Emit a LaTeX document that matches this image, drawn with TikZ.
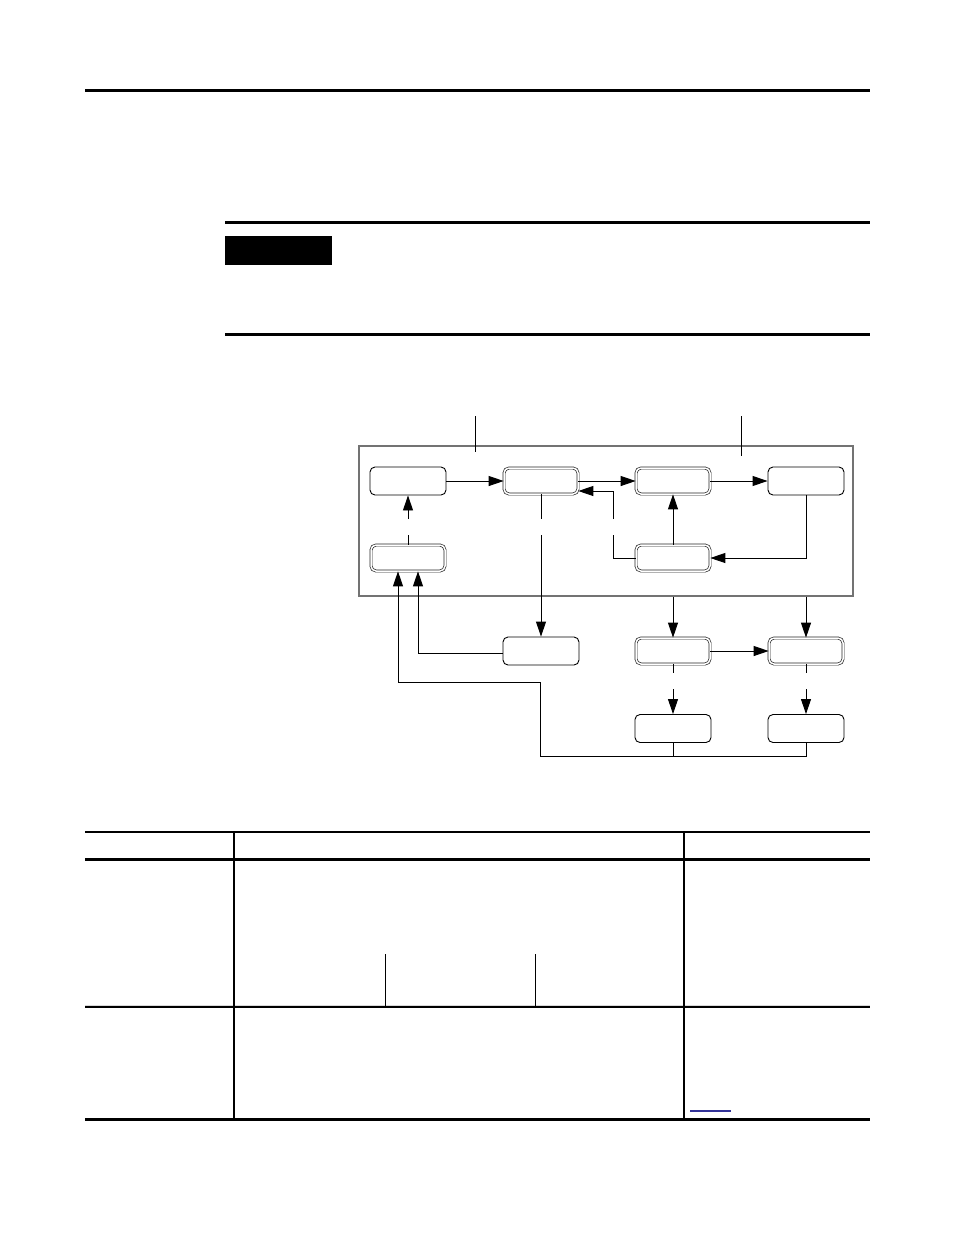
\documentclass[tikz,border=0pt]{standalone}
\usetikzlibrary{arrows.meta}
\begin{document}
\begin{tikzpicture}[x=1pt,y=-1pt,
  sbox/.style={draw=black,line width=0.9pt,rounded corners=5pt,minimum width=76pt,minimum height=28pt,inner sep=0pt,fill=white},
  dbox/.style={draw=black!85,line width=0.7pt,double=white,double distance=1.5pt,rounded corners=5pt,minimum width=74pt,minimum height=26pt,inner sep=0pt},
  conn/.style={line width=0.9pt,black},
  arr/.style={conn,-{Triangle[length=15pt,width=10pt]}},
  rule/.style={line width=3pt,black},
  tline/.style={line width=1.5pt,black}]
\useasboundingbox (0,0) rectangle (954,1235);
% page rules
\draw[rule] (85,90) -- (870,90);
\draw[rule] (225,222) -- (870,222);
\fill[black] (225,236) rectangle (332,265);
\draw[rule] (225,334) -- (870,334);
% diagram frame
\node[draw=black!55,line width=1.2pt,minimum width=494pt,minimum height=150pt,inner sep=0pt] (frame) at (606,521) {};
\coordinate (t1a) at (475,416); \coordinate (t1b) at (475,452);
\coordinate (t2a) at (741,416); \coordinate (t2b) at (741,456);
\draw[conn] (t1a) -- (t1b);
\draw[conn] (t2a) -- (t2b);
% boxes
\node[sbox] (A) at (408,481) {};
\node[dbox] (B) at (541,481) {};
\node[dbox] (C) at (673,481) {};
\node[sbox] (D) at (806,481) {};
\node[dbox] (E) at (408,558) {};
\node[dbox] (F) at (673,558) {};
\node[sbox] (G) at (541,651) {};
\node[dbox] (H) at (673,651) {};
\node[dbox] (I) at (806,651) {};
\node[sbox] (J) at (673,728.5) {};
\node[sbox] (K) at (806,728.5) {};
% connectors in frame
\draw[arr] (A) -- (B);
\draw[arr] (B) -- (C);
\draw[arr] (C) -- (D);
\coordinate (fb1) at (613,535); \coordinate (fb2) at (613,519); \coordinate (fb3) at (613,491);
\draw[conn] (F.west) -| (fb1);
\draw[arr] (fb2) -- (fb3) -- (fb3 -| B.east);
\coordinate (bg1) at (541,519); \coordinate (bg2) at (541,535);
\draw[conn] (B.south) -- (bg1);
\draw[arr] (bg2) -- (G.north);
\coordinate (ea1) at (408,535); \coordinate (ea2) at (408,519);
\draw[conn] (E.north) -- (ea1);
\draw[arr] (ea2) -- (A.south);
\draw[arr] (F.north) -- (C.south);
\draw[arr] (D.south) |- (F.east);
% from frame down
\draw[arr] (frame.south -| H) -- (H.north);
\draw[arr] (frame.south -| I) -- (I.north);
\draw[arr] (H) -- (I);
\coordinate (hj1) at (673,673); \coordinate (hj2) at (673,689);
\draw[conn] (H.south) -- (hj1);
\draw[arr] (hj2) -- (J.north);
\coordinate (ik1) at (806,673); \coordinate (ik2) at (806,689);
\draw[conn] (I.south) -- (ik1);
\draw[arr] (ik2) -- (K.north);
% return lines
\coordinate (r1) at (540,756); \coordinate (r2) at (540,682); \coordinate (r3) at (398,682);
\draw[conn] (J.south) -- (J.south |- r1);
\draw[conn] (K.south) -- (K.south |- r1) -- (r1);
\draw[arr] (r1) -- (r2) -- (r3) -- (r3 |- E.south);
\coordinate (g1) at (418,653);
\draw[arr] (G.west |- g1) -- (g1) -- (g1 |- E.south);
% table
\draw[tline] (85,832) -- (870,832);
\draw[rule] (85,859) -- (870,859);
\draw[line width=1pt,black!15] (85,1005) -- (870,1005);
\draw[tline] (85,1007) -- (870,1007);
\draw[rule] (85,1119) -- (870,1119);
\draw[tline] (234,832) -- (234,1119);
\draw[tline] (684,832) -- (684,1119);
\draw[line width=1pt] (385,954) -- (385,1007);
\draw[line width=1pt] (535,954) -- (535,1007);
\definecolor{linkblue}{RGB}{51,51,153}
\draw[line width=1.3pt,linkblue] (690,1111) -- (731,1111);
\end{tikzpicture}
\end{document}
